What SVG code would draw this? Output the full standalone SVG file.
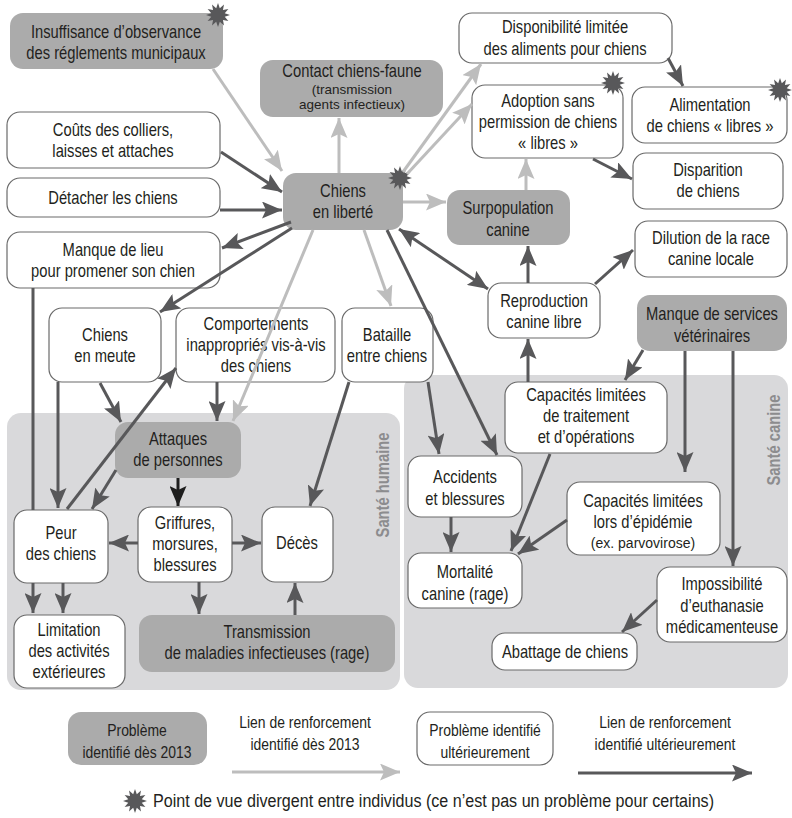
<svg xmlns="http://www.w3.org/2000/svg" width="792" height="818" viewBox="0 0 792 818">
<style>
.bg{fill:#ffffff}
.panel{fill:#d9d9db}
.g{fill:#ababab}
.w{fill:#ffffff;stroke:#6a6a6a;stroke-width:1.2}
.t{font-family:"Liberation Sans",Arial,sans-serif;font-size:18px;fill:#231f20;text-anchor:middle}
.s{font-family:"Liberation Sans",Arial,sans-serif;font-size:13.5px;fill:#231f20;text-anchor:middle}
.pl{font-family:"Liberation Sans",Arial,sans-serif;font-weight:bold;font-size:18px;fill:#8c8c8e;text-anchor:middle}
.lg{font-family:"Liberation Sans",Arial,sans-serif;font-size:17px;fill:#231f20;text-anchor:middle}
.L{stroke:#bdbdbd;stroke-width:3;fill:none;marker-end:url(#aL)}
.D{stroke:#58585a;stroke-width:3;fill:none;marker-end:url(#aD)}
.B{stroke:#1e1e1e;stroke-width:3;fill:none;marker-end:url(#aB)}
.star{fill:#58585a}
</style>
<defs>
<marker id="aL" markerUnits="userSpaceOnUse" markerWidth="20" markerHeight="17" refX="20" refY="8.5" orient="auto"><path d="M0,0 L20,8.5 L0,17 L4,8.5 z" fill="#bdbdbd"/></marker>
<marker id="aD" markerUnits="userSpaceOnUse" markerWidth="20" markerHeight="17" refX="20" refY="8.5" orient="auto-start-reverse"><path d="M0,0 L20,8.5 L0,17 L4,8.5 z" fill="#58585a"/></marker>
<marker id="aB" markerUnits="userSpaceOnUse" markerWidth="20" markerHeight="17" refX="20" refY="8.5" orient="auto"><path d="M0,0 L20,8.5 L0,17 L4,8.5 z" fill="#1e1e1e"/></marker>
<polygon id="st" points="12,0 6.76,1.81 10.39,6 4.95,4.95 6,10.39 1.81,6.76 0,12 -1.81,6.76 -6,10.39 -4.95,4.95 -10.39,6 -6.76,1.81 -12,0 -6.76,-1.81 -10.39,-6 -4.95,-4.95 -6,-10.39 -1.81,-6.76 0,-12 1.81,-6.76 6,-10.39 4.95,-4.95 10.39,-6 6.76,-1.81"/>
</defs>
<rect class="bg" x="0" y="0" width="792" height="818"/>

<g id="panel-sante-humaine">
<rect class="panel" x="7" y="413" width="393" height="277" rx="14"/>
<text class="pl" transform="translate(389,485) rotate(-90) scale(.82 1)">Santé humaine</text>
</g>
<g id="panel-sante-canine">
<rect class="panel" x="404" y="375" width="384" height="313" rx="14"/>
<text class="pl" transform="translate(780,440) rotate(-90) scale(.82 1)">Santé canine</text>
</g>

<g id="n-insuffisance">
<rect class="g" x="10" y="13" width="213" height="56" rx="13"/>
<text class="t" transform="translate(116 0) scale(.82 1)" y="38">Insuffisance d’observance</text>
<text class="t" transform="translate(116 0) scale(.82 1)" y="59">des réglements municipaux</text>
<use href="#st" class="star" x="218" y="15"/>
</g>
<g id="n-contact">
<rect class="g" x="260" y="60" width="183" height="57" rx="13"/>
<text class="t" transform="translate(352 0) scale(.82 1)" y="77.5">Contact chiens-faune</text>
<text class="s" x="352" y="94">(transmission</text>
<text class="s" x="352" y="108.5">agents infectieux)</text>
</g>
<g id="n-chiens-liberte">
<rect class="g" x="283" y="173" width="120" height="57" rx="13"/>
<text class="t" transform="translate(343 0) scale(.82 1)" y="197">Chiens</text>
<text class="t" transform="translate(343 0) scale(.82 1)" y="218">en liberté</text>
<use href="#st" class="star" x="400" y="178"/>
</g>
<g id="n-disponibilite">
<rect class="w" x="459" y="13" width="213" height="50" rx="13"/>
<text class="t" transform="translate(565 0) scale(.82 1)" y="33">Disponibilité limitée</text>
<text class="t" transform="translate(565 0) scale(.82 1)" y="55">des aliments pour chiens</text>
</g>
<g id="n-adoption">
<rect class="w" x="472" y="85" width="151" height="73" rx="13"/>
<text class="t" transform="translate(548 0) scale(.82 1)" y="107">Adoption sans</text>
<text class="t" transform="translate(548 0) scale(.82 1)" y="128">permission de chiens</text>
<text class="t" transform="translate(548 0) scale(.82 1)" y="149">« libres »</text>
<use href="#st" class="star" x="613" y="83"/>
</g>
<g id="n-alimentation">
<rect class="w" x="632" y="87" width="155" height="56" rx="13"/>
<text class="t" transform="translate(710 0) scale(.82 1)" y="111">Alimentation</text>
<text class="t" transform="translate(710 0) scale(.82 1)" y="132">de chiens « libres »</text>
<use href="#st" class="star" x="780" y="90"/>
</g>
<g id="n-disparition">
<rect class="w" x="633" y="153" width="150" height="56" rx="13"/>
<text class="t" transform="translate(708 0) scale(.82 1)" y="176">Disparition</text>
<text class="t" transform="translate(708 0) scale(.82 1)" y="197">de chiens</text>
</g>
<g id="n-couts">
<rect class="w" x="7" y="112" width="213" height="56" rx="13"/>
<text class="t" transform="translate(113 0) scale(.82 1)" y="136">Coûts des colliers,</text>
<text class="t" transform="translate(113 0) scale(.82 1)" y="157">laisses et attaches</text>
</g>
<g id="n-detacher">
<rect class="w" x="7" y="178" width="213" height="39" rx="13"/>
<text class="t" transform="translate(113 0) scale(.82 1)" y="204">Détacher les chiens</text>
</g>
<g id="n-manque-lieu">
<rect class="w" x="7" y="232" width="213" height="56" rx="13"/>
<text class="t" transform="translate(113 0) scale(.82 1)" y="256">Manque de lieu</text>
<text class="t" transform="translate(113 0) scale(.82 1)" y="277">pour promener son chien</text>
</g>
<g id="n-meute">
<rect class="w" x="49" y="308" width="112" height="74" rx="13"/>
<text class="t" transform="translate(105 0) scale(.82 1)" y="341">Chiens</text>
<text class="t" transform="translate(105 0) scale(.82 1)" y="362">en meute</text>
</g>
<g id="n-comportements">
<rect class="w" x="176" y="308" width="159" height="74" rx="13"/>
<text class="t" transform="translate(256 0) scale(.82 1)" y="330">Comportements</text>
<text class="t" transform="translate(256 0) scale(.82 1)" y="351">inappropriés vis-à-vis</text>
<text class="t" transform="translate(256 0) scale(.82 1)" y="372">des chiens</text>
</g>
<g id="n-bataille">
<rect class="w" x="342" y="308" width="91" height="74" rx="13"/>
<text class="t" transform="translate(387 0) scale(.82 1)" y="341">Bataille</text>
<text class="t" transform="translate(387 0) scale(.82 1)" y="362">entre chiens</text>
</g>
<g id="n-surpopulation">
<rect class="g" x="447" y="190" width="123" height="55" rx="13"/>
<text class="t" transform="translate(508 0) scale(.82 1)" y="214">Surpopulation</text>
<text class="t" transform="translate(508 0) scale(.82 1)" y="236">canine</text>
</g>
<g id="n-reproduction">
<rect class="w" x="488" y="283" width="112" height="55" rx="13"/>
<text class="t" transform="translate(544 0) scale(.82 1)" y="307">Reproduction</text>
<text class="t" transform="translate(544 0) scale(.82 1)" y="328">canine libre</text>
</g>
<g id="n-dilution">
<rect class="w" x="635" y="221" width="152" height="56" rx="13"/>
<text class="t" transform="translate(711 0) scale(.82 1)" y="244">Dilution de la race</text>
<text class="t" transform="translate(711 0) scale(.82 1)" y="265">canine locale</text>
</g>
<g id="n-manque-services">
<rect class="g" x="637" y="295" width="150" height="56" rx="13"/>
<text class="t" transform="translate(712 0) scale(.82 1)" y="320">Manque de services</text>
<text class="t" transform="translate(712 0) scale(.82 1)" y="342">vétérinaires</text>
</g>
<g id="n-cap-traitement">
<rect class="w" x="505" y="382" width="162" height="71" rx="13"/>
<text class="t" transform="translate(586 0) scale(.82 1)" y="401">Capacités limitées</text>
<text class="t" transform="translate(586 0) scale(.82 1)" y="422">de traitement</text>
<text class="t" transform="translate(586 0) scale(.82 1)" y="443">et d’opérations</text>
</g>
<g id="n-accidents">
<rect class="w" x="408" y="456" width="114" height="61" rx="13"/>
<text class="t" transform="translate(465 0) scale(.82 1)" y="483">Accidents</text>
<text class="t" transform="translate(465 0) scale(.82 1)" y="505">et blessures</text>
</g>
<g id="n-cap-epidemie">
<rect class="w" x="567" y="482" width="153" height="73" rx="13"/>
<text class="t" transform="translate(643 0) scale(.82 1)" y="507">Capacités limitées</text>
<text class="t" transform="translate(643 0) scale(.82 1)" y="528">lors d’épidémie</text>
<text class="s" x="643" y="548" style="font-size:14px">(ex. parvovirose)</text>
</g>
<g id="n-mortalite">
<rect class="w" x="408" y="553" width="114" height="55" rx="13"/>
<text class="t" transform="translate(465 0) scale(.82 1)" y="578">Mortalité</text>
<text class="t" transform="translate(465 0) scale(.82 1)" y="600">canine (rage)</text>
</g>
<g id="n-impossibilite">
<rect class="w" x="657" y="567" width="130" height="75" rx="13"/>
<text class="t" transform="translate(722 0) scale(.82 1)" y="590">Impossibilité</text>
<text class="t" transform="translate(722 0) scale(.82 1)" y="612">d’euthanasie</text>
<text class="t" transform="translate(722 0) scale(.82 1)" y="633">médicamenteuse</text>
</g>
<g id="n-abattage">
<rect class="w" x="492" y="633" width="145" height="37" rx="13"/>
<text class="t" transform="translate(565 0) scale(.82 1)" y="658">Abattage de chiens</text>
</g>
<g id="n-attaques">
<rect class="g" x="115" y="422" width="126" height="56" rx="13"/>
<text class="t" transform="translate(178 0) scale(.82 1)" y="445">Attaques</text>
<text class="t" transform="translate(178 0) scale(.82 1)" y="466">de personnes</text>
</g>
<g id="n-peur">
<rect class="w" x="14" y="510" width="94" height="73" rx="13"/>
<text class="t" transform="translate(61 0) scale(.82 1)" y="539">Peur</text>
<text class="t" transform="translate(61 0) scale(.82 1)" y="560">des chiens</text>
</g>
<g id="n-griffures">
<rect class="w" x="138" y="507" width="94" height="75" rx="13"/>
<text class="t" transform="translate(185 0) scale(.82 1)" y="529">Griffures,</text>
<text class="t" transform="translate(185 0) scale(.82 1)" y="550">morsures,</text>
<text class="t" transform="translate(185 0) scale(.82 1)" y="571">blessures</text>
</g>
<g id="n-deces">
<rect class="w" x="262" y="507" width="71" height="75" rx="13"/>
<text class="t" transform="translate(297 0) scale(.82 1)" y="549">Décès</text>
</g>
<g id="n-limitation">
<rect class="w" x="14" y="615" width="111" height="73" rx="13"/>
<text class="t" transform="translate(69 0) scale(.82 1)" y="636">Limitation</text>
<text class="t" transform="translate(69 0) scale(.82 1)" y="657">des activités</text>
<text class="t" transform="translate(69 0) scale(.82 1)" y="678">extérieures</text>
</g>
<g id="n-transmission">
<rect class="g" x="139" y="615" width="256" height="57" rx="13"/>
<text class="t" transform="translate(267 0) scale(.82 1)" y="638">Transmission</text>
<text class="t" transform="translate(267 0) scale(.82 1)" y="659">de maladies infectieuses (rage)</text>
</g>

<g id="connectors">
<line class="L" x1="213" y1="69" x2="282" y2="171"/>
<line class="L" x1="339" y1="173" x2="339" y2="118"/>
<line class="L" x1="403" y1="172" x2="481" y2="64"/>
<line class="L" x1="407" y1="174" x2="472" y2="104"/>
<line class="L" x1="403" y1="202" x2="446" y2="202"/>
<line class="L" x1="364" y1="230" x2="391" y2="306"/>
<line class="L" x1="313" y1="230" x2="233" y2="421"/>
<line class="L" x1="526" y1="190" x2="526" y2="159"/>
<line class="D" x1="221" y1="152" x2="282" y2="192"/>
<line class="D" x1="220" y1="210" x2="282" y2="210"/>
<line class="D" x1="291" y1="222" x2="222" y2="248"/>
<line class="D" x1="292" y1="228" x2="160" y2="312"/>
<line class="D" x1="399" y1="229" x2="488" y2="289" marker-start="url(#aD)"/>
<line class="D" x1="387" y1="230" x2="497" y2="455"/>
<line class="D" x1="428" y1="382" x2="439" y2="454"/>
<line class="D" x1="349" y1="382" x2="310" y2="506"/>
<line class="D" x1="668" y1="58" x2="683" y2="86"/>
<line class="D" x1="593" y1="159" x2="632" y2="179"/>
<line class="D" x1="528" y1="283" x2="528" y2="246"/>
<line class="D" x1="595" y1="284" x2="633" y2="250"/>
<line class="D" x1="528" y1="382" x2="528" y2="339"/>
<line class="D" x1="643" y1="350" x2="625" y2="380"/>
<line class="D" x1="685" y1="351" x2="685" y2="472"/>
<line class="D" x1="733" y1="351" x2="733" y2="566"/>
<line class="D" x1="550" y1="454" x2="511" y2="551"/>
<line class="D" x1="567" y1="520" x2="518" y2="554"/>
<line class="D" x1="451" y1="517" x2="451" y2="552"/>
<line class="D" x1="657" y1="600" x2="622" y2="632"/>
<path class="D" d="M33,288 V510 M33,583 V613"/>
<line class="D" x1="58" y1="382" x2="58" y2="508"/>
<line class="D" x1="100" y1="383" x2="121" y2="422"/>
<line class="D" x1="67" y1="509" x2="176" y2="368"/>
<line class="D" x1="116" y1="470" x2="92" y2="509"/>
<line class="D" x1="217" y1="382" x2="217" y2="421"/>
<line class="B" x1="178" y1="478" x2="178" y2="506"/>
<line class="D" x1="138" y1="543" x2="109" y2="543"/>
<line class="D" x1="232" y1="543" x2="261" y2="543"/>
<line class="D" x1="199" y1="582" x2="199" y2="614"/>
<line class="D" x1="295" y1="615" x2="295" y2="583"/>
<line class="D" x1="63" y1="583" x2="63" y2="613"/>
</g>

<g id="legend">
<rect class="g" x="68" y="712" width="139" height="53" rx="13"/>
<text class="lg" transform="translate(137 0) scale(.82 1)" y="736">Problème</text>
<text class="lg" transform="translate(137 0) scale(.82 1)" y="758">identifié dès 2013</text>
<text class="lg" transform="translate(305 0) scale(.82 1)" y="728">Lien de renforcement</text>
<text class="lg" transform="translate(305 0) scale(.82 1)" y="750">identifié dès 2013</text>
<line class="L" x1="232" y1="772" x2="400" y2="772"/>
<rect class="w" x="417" y="712" width="136" height="53" rx="13"/>
<text class="lg" transform="translate(485 0) scale(.82 1)" y="736">Problème identifié</text>
<text class="lg" transform="translate(485 0) scale(.82 1)" y="758">ultérieurement</text>
<text class="lg" transform="translate(665 0) scale(.82 1)" y="728">Lien de renforcement</text>
<text class="lg" transform="translate(665 0) scale(.82 1)" y="750">identifié ultérieurement</text>
<line class="D" x1="578" y1="773" x2="752" y2="773"/>
<use href="#st" class="star" x="135" y="801"/>
<text class="lg" x="153" y="807" style="text-anchor:start;font-size:18px" textLength="561" lengthAdjust="spacingAndGlyphs">Point de vue divergent entre individus (ce n’est pas un problème pour certains)</text>
</g>
</svg>
